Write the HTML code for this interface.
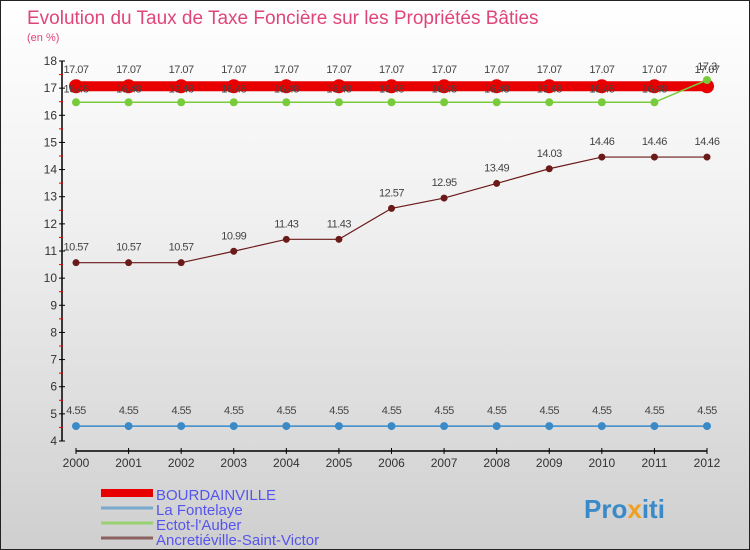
<!DOCTYPE html>
<html><head><meta charset="utf-8"><style>
body{margin:0}
#c{width:750px;height:550px;position:relative;background:linear-gradient(#fff 0%,#f0f0f0 40%,#cfcfcf 100%);border:1px solid #222;box-sizing:border-box;overflow:hidden;font-family:"Liberation Sans",sans-serif}
svg{position:absolute;left:0;top:0}
</style></head><body>
<div id="c">
<svg id="s" width="750" height="550">
<text x="26" y="23" font-size="19" fill="#e0457a">Evolution du Taux de Taxe Foncière sur les Propriétés Bâties</text>
<text x="26" y="40" font-size="11" fill="#e0457a">(en %)</text>
</svg>
</div>
<script>
const years=["2000","2001","2002","2003","2004","2005","2006","2007","2008","2009","2010","2011","2012"];
const yTicks=[4,5,6,7,8,9,10,11,12,13,14,15,16,17,18];
const bourdainville=[17.07,17.07,17.07,17.07,17.07,17.07,17.07,17.07,17.07,17.07,17.07,17.07,17.07];
const laFontelaye=[4.55,4.55,4.55,4.55,4.55,4.55,4.55,4.55,4.55,4.55,4.55,4.55,4.55];
const ectot=[16.48,16.48,16.48,16.48,16.48,16.48,16.48,16.48,16.48,16.48,16.48,16.48,17.3];
const ancretieville=[10.57,10.57,10.57,10.99,11.43,11.43,12.57,12.95,13.49,14.03,14.46,14.46,14.46];
const seriesNames=["BOURDAINVILLE","La Fontelaye","Ectot-l'Auber","Ancretiéville-Saint-Victor"];

const NS="http://www.w3.org/2000/svg",s=document.getElementById('s');
const X=i=>75+i*(706-75)/(years.length-1);
const Y=v=>440-(v-4)*(380/14);
function el(t,a,p){const e=document.createElementNS(NS,t);for(const k in a)e.setAttribute(k,a[k]);(p||s).appendChild(e);return e;}
let ax=el('line',{x1:61,y1:60,x2:61,y2:440,stroke:'#000','stroke-width':1.5});


yTicks.forEach(v=>{
  el('line',{x1:58,y1:Y(v),x2:64,y2:Y(v),stroke:'#000'});
  if(v<18)el('line',{x1:58,y1:Y(v+0.5),x2:62,y2:Y(v+0.5),stroke:'#e00'});
  const t=el('text',{x:56,y:Y(v)+4,'text-anchor':'end','font-size':12,fill:'#333'});t.textContent=v;
  
  
});
let xa=el('line',{x1:75,y1:450,x2:706,y2:450,stroke:'#000','stroke-width':1.5});


years.forEach((y,i)=>{
  el('line',{x1:X(i),y1:447,x2:X(i),y2:453,stroke:'#000'});
  const t=el('text',{x:X(i),y:466,'text-anchor':'middle','font-size':12,fill:'#333'});t.textContent=y;
  
  
});
const labelLayer=el('g',{});
function series(data,color,lw,r,name,dy){
  const g=el('g',{});
  
  
  s.insertBefore(g,labelLayer);
  el('polyline',{points:data.map((v,i)=>X(i)+','+Y(v)).join(' '),fill:'none',stroke:color,'stroke-width':lw},g);
  data.forEach((v,i)=>{
    const c=el('circle',{cx:X(i),cy:Y(v),r:r,fill:color},g);
    
    
    const t=el('text',{x:X(i),y:Y(v)+dy,'text-anchor':'middle','font-size':11,fill:'#444','letter-spacing':'-0.5'},labelLayer);
    t.textContent=String(v);
    
    
  });
}
series(laFontelaye,'#3a8ac8',1.5,4,'la-fontelaye-series',-12);
series(ancretieville,'#6b1a1a',1.2,3.5,'ancretieville-series',-12);
series(bourdainville,'#e80000',10,7,'bourdainville-series',-13);
series(ectot,'#78cc3c',1.5,4,'ectot-series',-10);
const lc=['#e80000','#78aacc','#99d070','#8a6060'],lw=[8,3,3,3];
seriesNames.forEach((n,i)=>{
  const y=492+i*15;
  const l=el('line',{x1:100,y1:y,x2:152,y2:y,stroke:lc[i],'stroke-width':lw[i]});
  
  
  const t=el('text',{x:155,y:y+7,'font-size':15,fill:'#5555ee'});t.textContent=n;
  
  
});
const lg=el('text',{x:583,y:517,'font-size':26,'font-weight':'bold',fill:'#3a8ac8'});
lg.innerHTML='Pro<tspan fill="#f0a020">x</tspan>iti';


</script>
</body></html>
